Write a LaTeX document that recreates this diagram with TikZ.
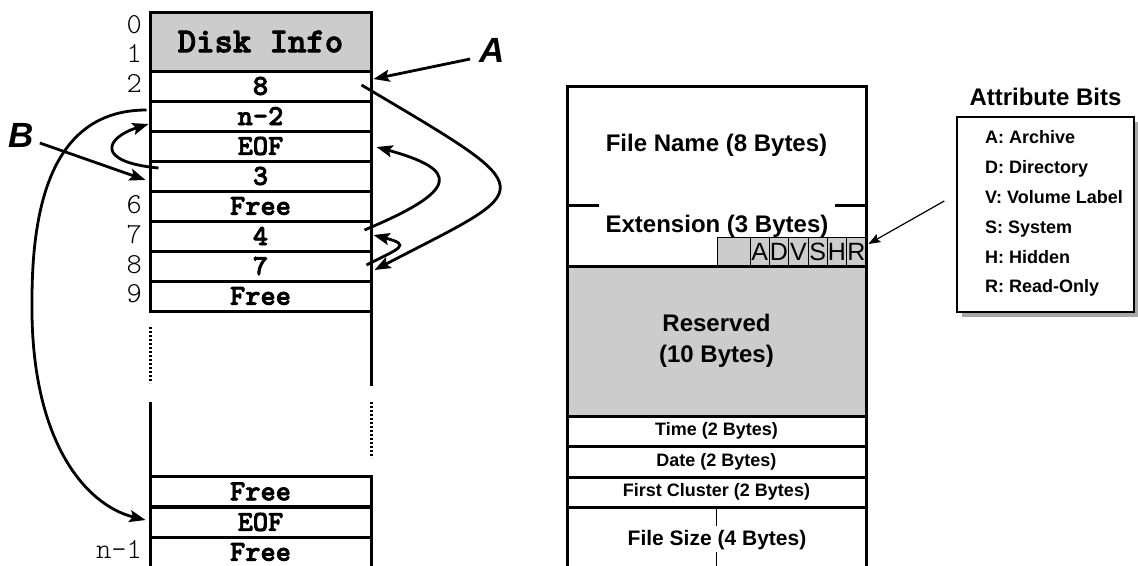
\documentclass[tikz,border=0pt]{standalone}
\usepackage{fontspec}
\setsansfont{Liberation Sans}
\newfontfamily\courb{lmmonolt10-bold.otf}[FakeBold=2.5]
\newfontfamily\courl{lmmonolt10-regular.otf}
\usetikzlibrary{arrows.meta,calc}
\definecolor{boxgray}{HTML}{CCCCCC}
\definecolor{shadowgray}{HTML}{A8A8A8}
\begin{document}
\begin{tikzpicture}[x=1pt,y=-1pt,
  thickline/.style={line width=3pt},
  cell/.style={draw, line width=3pt, minimum width=221pt, minimum height=30pt, inner sep=0pt,
    font=\fontsize{29}{30}\selectfont\courb},
  idx/.style={anchor=base east, inner sep=0pt, font=\fontsize{29}{30}\selectfont\courl},
  fld/.style={draw, line width=3pt, minimum width=299pt, inner sep=0pt,
    font=\fontsize{24}{31}\selectfont\sffamily\bfseries, align=center},
  small/.style={font=\fontsize{18}{20}\selectfont\sffamily\bfseries},
  bit/.style={draw, line width=0.8pt, fill=boxgray, minimum height=29pt, inner sep=0pt,
    font=\fontsize{25}{27}\selectfont\sffamily},
  lab/.style={anchor=base, inner sep=0pt, font=\fontsize{35}{37}\selectfont\sffamily\bfseries\itshape},
  item/.style={anchor=base west, inner sep=0pt, font=\fontsize{18}{20}\selectfont\sffamily\bfseries},
  arr/.style={line width=2.8pt, -{Stealth[length=16pt,width=12pt,inset=3pt]}},
  thinarr/.style={line width=1.2pt, -{Stealth[length=12pt,width=9pt,inset=2pt]}}
]
\useasboundingbox (0,0) rectangle (1138,565);

% ---------- left column (FAT) ----------
\node[cell, fill=boxgray, minimum height=59pt, font=\fontsize{35}{36}\selectfont\courb]
  (disk) at (260.5,41.5) {Disk Info};
\node[cell] (r2) at (260.5,86)  {8};
\node[cell] (r3) at (260.5,116) {n-2};
\node[cell] (r4) at (260.5,146) {EOF};
\node[cell] (r5) at (260.5,176) {3};
\node[cell] (r6) at (260.5,206) {Free};
\node[cell] (r7) at (260.5,236) {4};
\node[cell] (r8) at (260.5,266) {7};
\node[cell] (r9) at (260.5,296) {Free};

\node[cell] (rA) at (260.5,491.5) {Free};
\node[cell] (rB) at (260.5,522) {EOF};
\node[cell] (rC) at (260.5,552) {Free};

% broken middle part
\draw[thickline, dash pattern=on 2pt off 2pt] (150,327) -- (150,383);
\draw[thickline] (371,311) -- (371,386);
\draw[thickline] (150,402) -- (150,476);
\draw[thickline, dash pattern=on 2pt off 2pt] (371,402) -- (371,458);

% indices
\node[idx] (i0) at (142,33)  {0};
\node[idx] (i1) at (142,62)  {1};
\node[idx] (i2) at (142,92)  {2};
\node[idx] (i6) at (142,213) {6};
\node[idx] (i7) at (142,243) {7};
\node[idx] (i8) at (142,273) {8};
\node[idx] (i9) at (142,302) {9};
\node[idx] (in) at (142,558) {n-1};

% labels A and B
\node[lab] (A) at (492,62) {A};
\node[lab] (B) at (21,147) {B};

% arrows
\draw[arr] ($(A.base west)+(-9,-3)$) -- ($(r2.east)+(1,-7)$);
\draw[arr] ($(B.base east)+(6,-4)$) -- ($(r5.west)+(-3,4)$);
\draw[arr] ($(r2.east)+(-11,-1)$) .. controls (547,195) and (538,185) .. ($(r8.east)+(2,4)$);
\draw[arr] ($(r8.east)+(-6,-1)$) .. controls (400,248) and (412,245) .. ($(r7.east)+(1,-1)$);
\draw[arr] ($(r7.east)+(-8,-6)$) .. controls (460,190) and (460,170) .. ($(r4.east)+(4,1)$);
\draw[arr] ($(r5.west)+(10,-8)$) .. controls (95,162) and (105,138) .. ($(r3.west)+(0,8)$);
\draw[arr] ($(r3.west)+(-2,-6)$) .. controls (60,110) and (32,190) .. (32,300)
  .. controls (30,440) and (85,505) .. ($(rB.west)+(-3,-2)$);

% ---------- right column (directory entry) ----------
\node[fld, minimum height=119pt] (fname) at (716.5,145.5) {File Name (8 Bytes)};
\node[fld, minimum height=61pt] (ext) at (716.5,235.5) {};
\node[fill=white, inner xsep=7pt, inner ysep=0pt, text height=30pt, text depth=6pt, anchor=base,
  font=\fontsize{24}{28}\selectfont\sffamily\bfseries] (extt) at (717,232) {Extension (3 Bytes)};
\node[bit, minimum width=33pt] (bx) at (733.5,251.5) {};
\node[bit, minimum width=19.33pt] (bA) at (759.67,251.5) {A};
\node[bit, minimum width=19.33pt] (bD) at (779.0,251.5) {D};
\node[bit, minimum width=19.33pt] (bV) at (798.33,251.5) {V};
\node[bit, minimum width=19.33pt] (bS) at (817.67,251.5) {S};
\node[bit, minimum width=19.33pt] (bH) at (837.0,251.5) {H};
\node[bit, minimum width=19.33pt] (bR) at (856.33,251.5) {R};
\draw[line width=3pt] (567,266) -- (866,266);
\draw[line width=3pt] (866,203) -- (866,268);

\node[fld, fill=boxgray, minimum height=150pt] (res) at (716.5,341) {Reserved\\(10 Bytes)};
\node[fld, small, minimum height=30pt] (time) at (716.5,431) {Time (2 Bytes)};
\node[fld, small, minimum height=31pt] (date) at (716.5,461.5) {Date (2 Bytes)};
\node[fld, small, minimum height=30pt] (fcl) at (716.5,492) {First Cluster (2 Bytes)};
\node[fld, minimum height=63pt] (fsz) at (716.5,538.5) {};
\draw[line width=1.5pt] (fsz.north) -- (fsz.south);
\node[fill=white, inner xsep=2pt, inner ysep=2pt, text height=17pt, text depth=5pt, anchor=base,
  font=\fontsize{21}{24}\selectfont\sffamily\bfseries] (fszt) at (717,545) {File Size (4 Bytes)};

% ---------- attribute bits box ----------
\fill[shadowgray] (962,122) rectangle (1140,317);
\node[draw, line width=1.5pt, fill=white, minimum width=177pt, minimum height=195pt, inner sep=0pt]
  (attr) at (1045.5,214.5) {};
\node[anchor=base, inner sep=0pt, font=\fontsize{24}{28}\selectfont\sffamily\bfseries]
  (attrt) at (1045.5,105) {Attribute Bits};
\node[item] (a1) at (985,143) {A: Archive};
\node[item] (a2) at (985,173) {D: Directory};
\node[item] (a3) at (985,203) {V: Volume Label};
\node[item] (a4) at (985,233) {S: System};
\node[item] (a5) at (985,263) {H: Hidden};
\node[item] (a6) at (985,292) {R: Read-Only};

\draw[thinarr] ($(attr.west)+(-12,-13.5)$) -- ($(bR.east)+(2,-7.5)$);
\end{tikzpicture}
\end{document}
